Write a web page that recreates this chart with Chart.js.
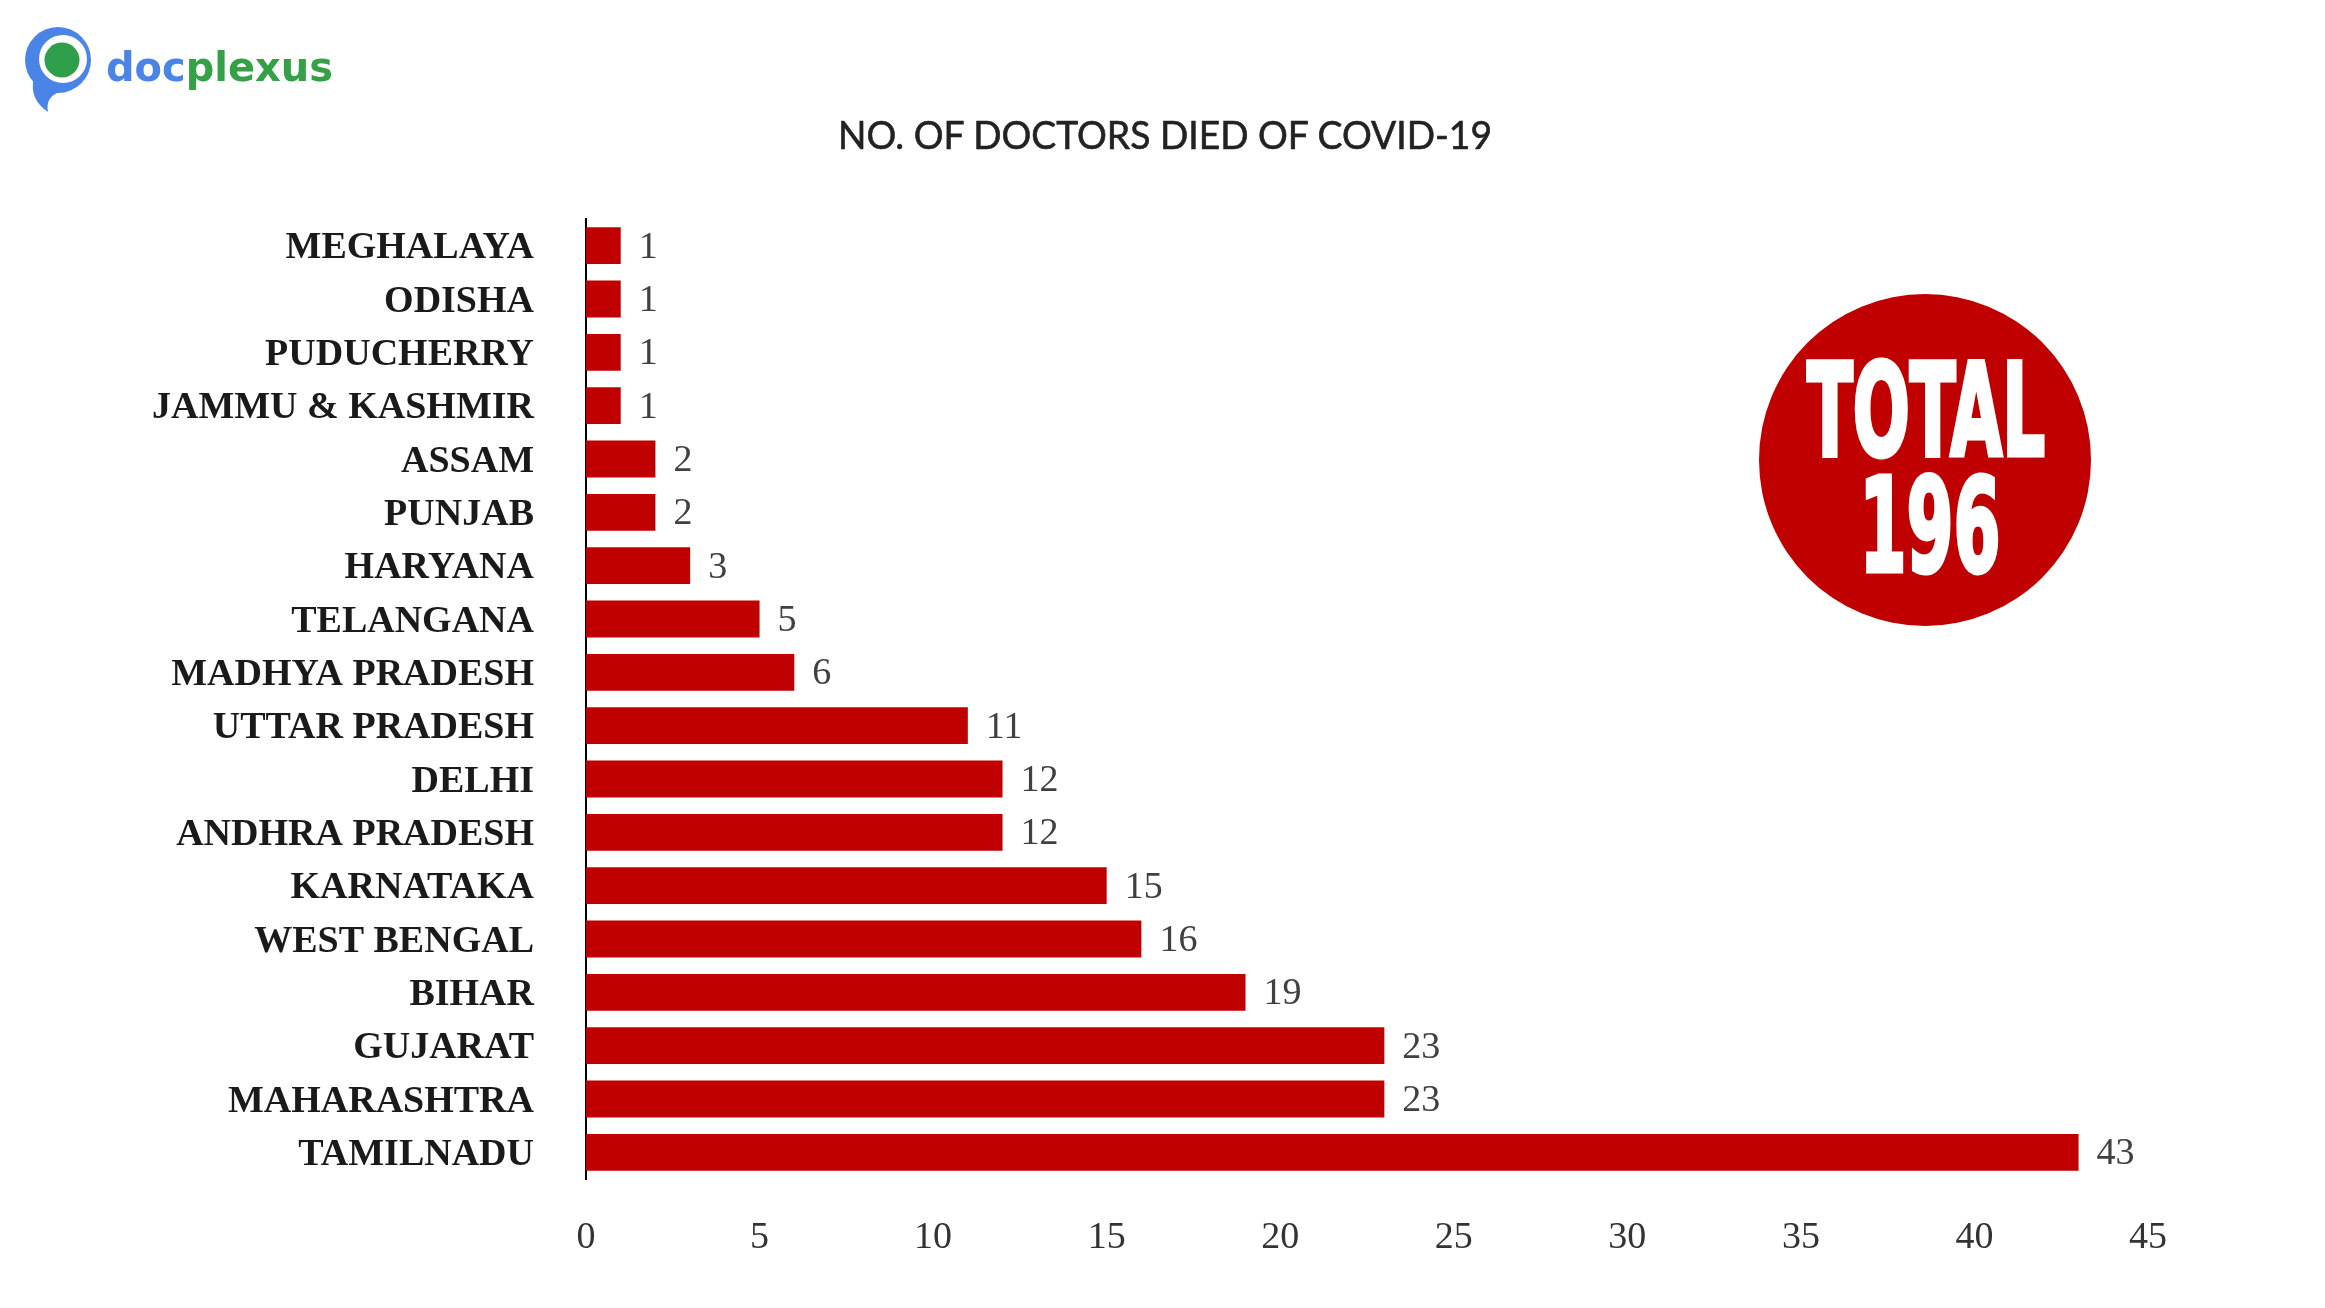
<!DOCTYPE html>
<html>
<head>
<meta charset="utf-8">
<script src="https://cdn.jsdelivr.net/npm/chart.js@4.4.0/dist/chart.umd.min.js"></script>
<style>
  html, body { margin: 0; padding: 0; background: #ffffff; }
  #wrap { position: relative; width: 2325px; height: 1308px; background: #ffffff; }
  #overlay { position: absolute; left: 0; top: 0; pointer-events: none; }
</style>
</head>
<body>
<div id="wrap">
  <canvas id="chart" width="2325" height="1308"></canvas>
  <svg id="overlay" width="2325" height="1308" xmlns="http://www.w3.org/2000/svg">
    <!-- logo icon -->
    <path d="M34 78 C 30 92, 36 104, 48 112 C 46 102, 50 95, 60 92 Z" fill="#4A84E6"/>
    <circle cx="58" cy="60" r="33" fill="#4A84E6"/>
    <circle cx="63" cy="59" r="24" fill="#ffffff"/>
    <circle cx="62" cy="60" r="17.5" fill="#2F9E4B"/>
    <text x="106" y="81" font-family="'DejaVu Sans', sans-serif" font-weight="bold" font-size="40" textLength="227" lengthAdjust="spacingAndGlyphs"><tspan fill="#4A84E6">doc</tspan><tspan fill="#34A146">plexus</tspan></text>
    <!-- chart title -->
    <text id="titleText" x="1165" y="149" text-anchor="middle" font-family="Lato, 'Open Sans', sans-serif" font-size="38" fill="#222222" stroke="#222222" stroke-width="0.6" textLength="654" lengthAdjust="spacingAndGlyphs"></text>
    <!-- total badge -->
    <circle cx="1925" cy="460" r="166" fill="#C00000"/>
    <text x="1926" y="455" text-anchor="middle" font-family="'DejaVu Sans', sans-serif" font-weight="bold" font-size="128" fill="#ffffff" stroke="#ffffff" stroke-width="5" textLength="238" lengthAdjust="spacingAndGlyphs">TOTAL</text>
    <text x="1930" y="571" text-anchor="middle" font-family="'DejaVu Sans', sans-serif" font-weight="bold" font-size="130" fill="#ffffff" stroke="#ffffff" stroke-width="5" textLength="141" lengthAdjust="spacingAndGlyphs">196</text>
  </svg>
</div>
<script>
const chartTitle = 'NO. OF DOCTORS DIED OF COVID-19';
const states = ['MEGHALAYA', 'ODISHA', 'PUDUCHERRY', 'JAMMU & KASHMIR', 'ASSAM', 'PUNJAB', 'HARYANA', 'TELANGANA', 'MADHYA PRADESH', 'UTTAR PRADESH', 'DELHI', 'ANDHRA PRADESH', 'KARNATAKA', 'WEST BENGAL', 'BIHAR', 'GUJARAT', 'MAHARASHTRA', 'TAMILNADU'];
const doctorsDied = [1, 1, 1, 1, 2, 2, 3, 5, 6, 11, 12, 12, 15, 16, 19, 23, 23, 43];
const xTickMin = 0;
const xTickMax = 45;
const xTickStep = 5;

document.getElementById('titleText').textContent = chartTitle;

const valueLabels = {
  id: 'valueLabels',
  afterDatasetsDraw(chart) {
    const ctx = chart.ctx;
    const meta = chart.getDatasetMeta(0);
    const ds = chart.data.datasets[0].data;
    ctx.save();
    ctx.font = '38px "Liberation Serif", "Times New Roman", serif';
    ctx.fillStyle = '#404040';
    ctx.textAlign = 'left';
    ctx.textBaseline = 'middle';
    meta.data.forEach((bar, i) => {
      ctx.fillText(String(ds[i]), bar.x + 18, bar.y + 2);
    });
    ctx.restore();
  }
};

new Chart(document.getElementById('chart'), {
  type: 'bar',
  data: {
    labels: states,
    datasets: [{
      data: doctorsDied,
      backgroundColor: '#C00000',
      borderWidth: 0,
      categoryPercentage: 1.0,
      barPercentage: 0.69
    }]
  },
  options: {
    indexAxis: 'y',
    responsive: false,
    animation: false,
    layout: { padding: { left: 0, right: 177, top: 219, bottom: 0 } },
    plugins: {
      legend: { display: false },
      tooltip: { enabled: false },
      title: { display: false }
    },
    scales: {
      y: {
        grid: { display: false, drawTicks: false },
        border: { display: true, color: '#000000', width: 2 },
        ticks: {
          color: '#1a1a1a',
          padding: 52,
          labelOffset: 3,
          font: { family: '"Liberation Serif", "Times New Roman", serif', size: 38, weight: 'bold' }
        },
        afterFit(scale) { scale.width = 586; }
      },
      x: {
        min: xTickMin,
        max: xTickMax,
        grid: { display: false, drawTicks: false },
        border: { display: false },
        ticks: {
          stepSize: xTickStep,
          color: '#333333',
          padding: 36,
          maxRotation: 0,
          font: { family: '"Liberation Serif", "Times New Roman", serif', size: 38 }
        },
        afterFit(scale) { scale.height = 129; }
      }
    }
  },
  plugins: [valueLabels]
});
</script>
</body>
</html>
